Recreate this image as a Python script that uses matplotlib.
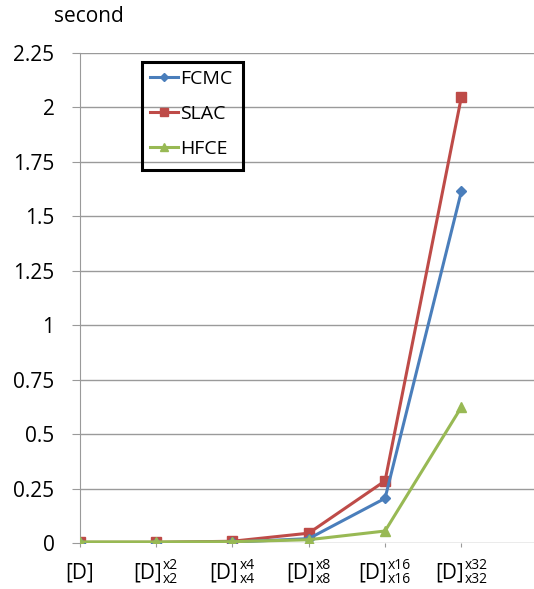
import matplotlib
matplotlib.use('Agg')
import matplotlib.pyplot as plt
import matplotlib.transforms as mtransforms
from matplotlib.patches import Rectangle

plt.rcParams['font.family'] = ['Open Sans', 'DejaVu Sans']

categories = ['[D]', '[D]', '[D]', '[D]', '[D]', '[D]']
scales = ['', 'x2', 'x4', 'x8', 'x16', 'x32']
fcmc = [0.002, 0.002, 0.004, 0.02, 0.205, 1.615]
slac = [0.003, 0.003, 0.008, 0.045, 0.285, 2.048]
hfce = [0.005, 0.005, 0.006, 0.015, 0.055, 0.624]
yticks = [0, 0.25, 0.5, 0.75, 1, 1.25, 1.5, 1.75, 2, 2.25]
ylabels = ['0', '0.25', '0.5', '0.75', '1', '1.25', '1.5', '1.75', '2', '2.25']

fig = plt.figure(figsize=(5.34, 5.89), dpi=100)
ax = fig.add_axes([0.1489, 0.0781, 0.8511, 0.8324])

x = list(range(len(categories)))
ax.plot(x, fcmc, color='#4a7ebb', lw=2.2, marker='D', ms=5, label='FCMC', zorder=3)
ax.plot(x, slac, color='#be4b48', lw=2.2, marker='s', ms=6.5, label='SLAC', zorder=2)
ax.plot(x, hfce, color='#98b954', lw=2.2, marker='^', ms=7, label='HFCE', zorder=4)

ax.set_xlim(0, 5.95)
ax.set_ylim(0, 2.25)
ax.set_yticks(yticks)
ax.set_yticklabels(ylabels, fontsize=15)
ax.set_xticks(x)
ax.set_xticklabels([])
ax.yaxis.grid(True, color='#9a9a9a', lw=1)
ax.set_axisbelow(True)

for s in ['top', 'right', 'bottom']:
    ax.spines[s].set_visible(False)
ax.spines['left'].set_color('#9a9a9a')
ax.tick_params(axis='y', length=6, color='#9a9a9a', pad=12)
ax.tick_params(axis='x', length=3, color='#9a9a9a')

# category labels: [D] with stacked super/subscript, centred on the tick
trans = ax.get_xaxis_transform()
def off(dx, dy):
    return trans + mtransforms.ScaledTranslation(dx / 100, -dy / 100, fig.dpi_scale_trans)

for i, (cat, sc) in enumerate(zip(categories, scales)):
    if sc == '':
        ax.text(i, 0, cat, fontsize=15, ha='center', va='center', transform=off(0, 30))
        continue
    shift = (28 - 8 * len(sc)) / 2
    ax.text(i, 0, cat, fontsize=15, ha='right', va='center', transform=off(shift, 30))
    ax.text(i, 0, sc, fontsize=10, ha='left', va='center', transform=off(shift + 1, 23))
    ax.text(i, 0, sc, fontsize=10, ha='left', va='center', transform=off(shift + 1, 37))

fig.text(89 / 534, 1 - 16 / 589, 'second', fontsize=15, ha='center', va='center')

leg = ax.legend(loc='upper left', bbox_to_anchor=(150 / 534, 1 - 70 / 589),
                bbox_transform=fig.transFigure, fontsize=14, frameon=False,
                handlelength=1.45, handletextpad=0.1, labelspacing=0.87, borderpad=0,
                borderaxespad=0, markerscale=0.8)
fig.patches.append(Rectangle((142 / 534, 1 - 170 / 589), 101 / 534, 108 / 589,
                             transform=fig.transFigure, fill=False,
                             edgecolor='black', lw=2.2, zorder=5))

fig.savefig('out.png', dpi=100)
